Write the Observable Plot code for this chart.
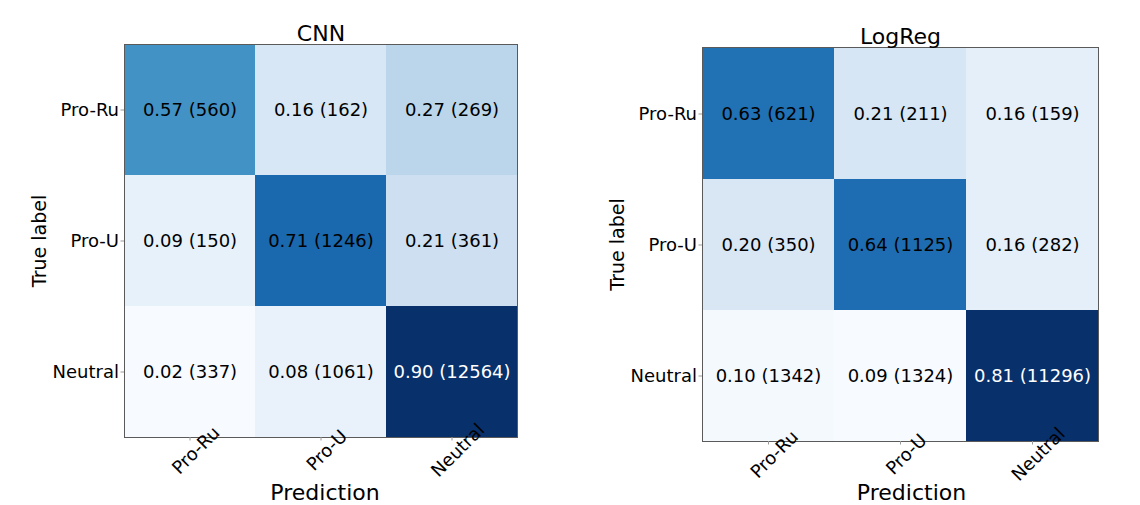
<!DOCTYPE html>
<html>
<head>
<meta charset="utf-8">
<script src="https://cdn.jsdelivr.net/npm/d3@7"></script>
<script src="https://cdn.jsdelivr.net/npm/@observablehq/plot@0.6"></script>
<style>
  html, body { margin: 0; padding: 0; background: #fff; }
  #wrap { position: relative; width: 1140px; height: 505px; overflow: hidden; }
  #wrap > svg, #wrap > figure { position: absolute; top: 0; margin: 0; }
</style>
</head>
<body>
<div id="wrap"></div>
<script>
// ---- data ----
const classLabels = ["Pro-Ru", "Pro-U", "Neutral"];
const cnnTitle = "CNN";
const cnnRates = [[0.57, 0.16, 0.27], [0.09, 0.71, 0.21], [0.02, 0.08, 0.90]];
const cnnCounts = [[560, 162, 269], [150, 1246, 361], [337, 1061, 12564]];
const logregTitle = "LogReg";
const logregRates = [[0.63, 0.21, 0.16], [0.20, 0.64, 0.16], [0.10, 0.09, 0.81]];
const logregCounts = [[621, 211, 159], [350, 1125, 282], [1342, 1324, 11296]];
const xAxisLabel = "Prediction";
const yAxisLabel = "True label";
// matplotlib "Blues" colormap stops
const bluesStops = ["#f7fbff", "#deebf7", "#c6dbef", "#9ecae1", "#6baed6", "#4292c6", "#2171b5", "#08519c", "#08306b"];

function toTable(rates, counts) {
  const rows = [];
  classLabels.forEach((t, i) => classLabels.forEach((p, j) => {
    rows.push({ truth: t, pred: p, rate: rates[i][j], count: counts[i][j] });
  }));
  return rows;
}

function matrix(title, rates, counts, m, predDx) {
  const data = toTable(rates, counts);
  const vals = data.map(d => d.rate);
  const lo = d3.min(vals), hi = d3.max(vals);
  const dom = bluesStops.map((_, k) => lo + (hi - lo) * k / (bluesStops.length - 1));
  return Plot.plot({
    width: 570,
    height: 505,
    marginLeft: m.left, marginRight: m.right, marginTop: m.top, marginBottom: m.bottom,
    style: { fontFamily: "DejaVu Sans", fontSize: "18px", color: "#000", background: "transparent" },
    x: { domain: classLabels, padding: 0, label: null },
    y: { domain: classLabels, padding: 0, label: null },
    color: { type: "linear", domain: dom, range: bluesStops, interpolate: "rgb" },
    marks: [
      Plot.cell(data, { x: "pred", y: "truth", fill: "rate", inset: 0 }),
      Plot.text(data, {
        x: "pred", y: "truth",
        text: d => `${d.rate.toFixed(2)} (${d.count})`,
        fill: d => d.rate > 0.75 ? "white" : "black",
        fontSize: 18
      }),
      Plot.frame({ stroke: "#5a5a5a", strokeWidth: 1 }),
      Plot.axisY({ tickSize: 3.5, tickPadding: 2, stroke: "#999", fontSize: 18, label: null }),
      Plot.axisX({ tickSize: 3.5, tickFormat: () => "", stroke: "#999", label: null }),
      Plot.text(classLabels, {
        x: d => d, text: d => d, frameAnchor: "bottom",
        dy: 13, dx: 6, rotate: -45, textAnchor: "middle", lineAnchor: "middle",
        fontSize: 18, fill: "black"
      }),
      Plot.text([title], {
        text: d => d, frameAnchor: "top", dy: -3.5, lineAnchor: "bottom",
        fontSize: 22, fill: "black"
      }),
      Plot.text([xAxisLabel], {
        text: d => d, frameAnchor: "bottom", dy: m.bottom - 6, dx: predDx, lineAnchor: "bottom",
        fontSize: 22, fill: "black"
      }),
      Plot.text([yAxisLabel], {
        text: d => d, frameAnchor: "left", dx: -85, rotate: -90, lineAnchor: "middle", textAnchor: "middle",
        fontSize: 19, fill: "black"
      })
    ]
  });
}

const wrap = document.getElementById("wrap");
const left = matrix(cnnTitle, cnnRates, cnnCounts, { left: 124, right: 53, top: 44, bottom: 68 }, 4);
left.style.left = "0px";
wrap.appendChild(left);
const right = matrix(logregTitle, logregRates, logregCounts, { left: 132, right: 42, top: 47, bottom: 64 }, 11);
right.style.left = "570px";
wrap.appendChild(right);
</script>
</body>
</html>
